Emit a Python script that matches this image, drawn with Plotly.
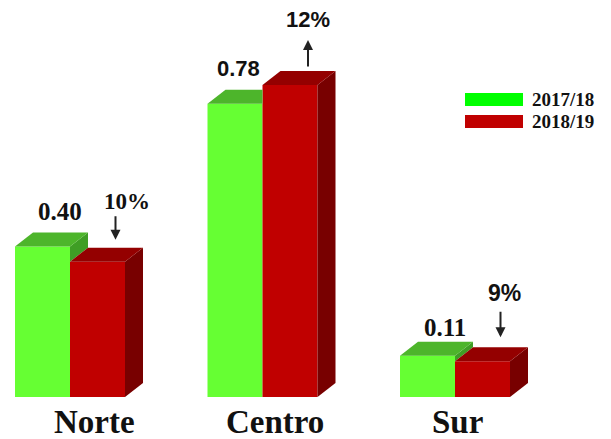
import plotly.graph_objects as go

regions = ["Norte", "Centro", "Sur"]
v2017 = [0.40, 0.78, 0.11]
v2018 = [0.36, 0.83, 0.095]
val_labels = ["0.40", "0.78", "0.11"]
pct_labels = ["10%", "12%", "9%"]
pct_dir = ["down", "up", "down"]
series_names = ["2017/18", "2018/19"]

W = 611
H = 439
PX_X = 192.5
PX_Y = 376.0
w = 55 / PX_X
dx = 18 / PX_X
dy = 14 / PX_Y
x0 = -70 / PX_X
x1 = x0 + W / PX_X
y1 = 397 / PX_Y
y0 = y1 - H / PX_Y

G_FRONT, G_TOP, G_SIDE = "#66FF33", "#4DB52B", "#3F9E25"
R_FRONT, R_TOP, R_SIDE = "#C00000", "#940000", "#780000"

SERIF = "Liberation Serif, Times New Roman, serif"
SANS = "Liberation Sans, Arial, sans-serif"

fig = go.Figure()
xs = list(range(len(regions)))
fig.add_trace(go.Bar(x=xs, y=v2017, width=w, offset=-w, marker_color=G_FRONT,
                     marker_line_width=0, name=series_names[0], showlegend=False))
fig.add_trace(go.Bar(x=xs, y=v2018, width=w, offset=0, marker_color=R_FRONT,
                     marker_line_width=0, name=series_names[1], showlegend=False))


def poly(pts, color):
    xsv = [p[0] for p in pts] + [pts[0][0]]
    ysv = [p[1] for p in pts] + [pts[0][1]]
    fig.add_trace(go.Scatter(x=xsv, y=ysv, fill="toself", fillcolor=color,
                             mode="lines", line=dict(width=0, color=color),
                             hoverinfo="skip", showlegend=False))


for i in xs:
    hg, hr = v2017[i], v2018[i]
    gl, gr = i - w, i
    rl, rr = i, i + w
    if hg > hr:
        poly([(gr, hr), (gr + dx, hr + dy), (gr + dx, hg + dy), (gr, hg)], G_SIDE)
        poly([(gl, hg), (gl + dx, hg + dy), (gr + dx, hg + dy), (gr, hg)], G_TOP)
    else:
        poly([(gl, hg), (gl + dx, hg + dy), (gr, hg + dy), (gr, hg)], G_TOP)
    poly([(rr, 0), (rr + dx, dy), (rr + dx, hr + dy), (rr, hr)], R_SIDE)
    poly([(rl, hr), (rl + dx, hr + dy), (rr + dx, hr + dy), (rr, hr)], R_TOP)

annotations = []
cat_xshift = [24, 12, 2]
val_xshift = [8, -6, 8]
val_yshift = [6, 7, -1]
val_font = [(SERIF, 25), (SANS, 22), (SERIF, 25)]
pct_xshift = [11, 0, 4]
pct_yshift = [32, 37, 39]
pct_font = [(SERIF, 23), (SANS, 22), (SANS, 23)]
arrow_cfg = [(8, -25), (31, 28), (10, -27)]

for i in xs:
    hg, hr = v2017[i], v2018[i]
    annotations.append(dict(x=i, y=0, xref="x", yref="y", text=f"<b>{regions[i]}</b>",
                            showarrow=False, yanchor="middle", yshift=-25,
                            xshift=cat_xshift[i],
                            font=dict(family=SERIF, size=33, color="#111111")))
    annotations.append(dict(x=i - w / 2 + dx / 2, y=hg + dy, xref="x", yref="y",
                            text=f"<b>{val_labels[i]}</b>", showarrow=False,
                            yanchor="bottom", yshift=val_yshift[i], xshift=val_xshift[i],
                            font=dict(family=val_font[i][0], size=val_font[i][1], color="#111111")))
    xa = i + w / 2 + dx
    annotations.append(dict(x=xa, y=hr + dy, xref="x", yref="y",
                            text=f"<b>{pct_labels[i]}</b>", showarrow=False,
                            yanchor="bottom", yshift=pct_yshift[i], xshift=pct_xshift[i],
                            font=dict(family=pct_font[i][0], size=pct_font[i][1], color="#111111")))
    ys, ay = arrow_cfg[i]
    annotations.append(dict(x=xa, y=hr + dy, xref="x", yref="y", text="",
                            showarrow=True, ax=0, ay=ay, yshift=ys,
                            arrowhead=2, arrowsize=1.0, arrowwidth=2,
                            arrowcolor="#222222"))

leg_cols = [("#00FF00", 93, 106), ("#C00000", 115, 128)]
shapes = []
for (col, top, bot), name in zip(leg_cols, series_names):
    shapes.append(dict(type="rect", xref="paper", yref="paper",
                       x0=465 / W, x1=523 / W, y0=1 - bot / H, y1=1 - top / H,
                       fillcolor=col, line=dict(width=0)))
    annotations.append(dict(x=530 / W, y=1 - (top + bot) / 2 / H, xref="paper", yref="paper",
                            text=f"<b>{name}</b>", showarrow=False, xanchor="left",
                            yanchor="middle",
                            font=dict(family=SERIF, size=19, color="#111111")))

fig.update_layout(
    width=W, height=H,
    margin=dict(l=0, r=0, t=0, b=0),
    paper_bgcolor="white", plot_bgcolor="white",
    showlegend=False,
    xaxis=dict(range=[x0, x1], visible=False, fixedrange=True),
    yaxis=dict(range=[y0, y1], visible=False, fixedrange=True),
    annotations=annotations, shapes=shapes,
)
fig.write_html("out.html")
